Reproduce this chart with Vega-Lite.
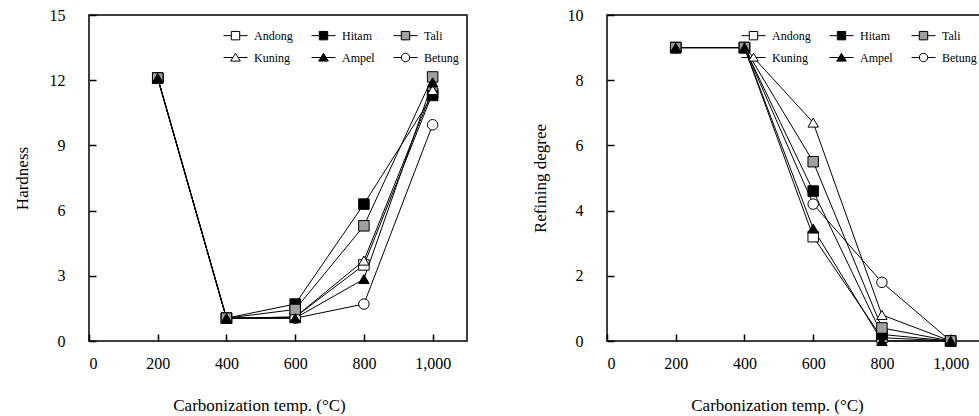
{
  "$schema": "https://vega.github.io/schema/vega-lite/v6.json",
  "padding": {"left": 12, "top": 6, "right": 0, "bottom": 0},
  "background": "white",
  "config": {
    "font": "Liberation Serif",
    "view": {"stroke": "black", "strokeWidth": 1.5},
    "axis": {
      "domain": false, "grid": false, "ticks": true, "tickSize": 7, "offset": -7, "tickColor": "black", "tickWidth": 1.5, "tickOpacity": 1, "zindex": 1,
      "labelFont": "Liberation Serif", "labelFontSize": 16, "labelColor": "black",
      "titleFont": "Liberation Serif", "titleFontSize": 17, "titleFontWeight": "normal", "titleColor": "black"
    },
    "axisX": {"labelPadding": 14, "titlePadding": 26},
    "axisY": {"labelPadding": 24, "titlePadding": 18},
    "legend": {
      "labelFont": "Liberation Serif", "labelFontSize": 12, "labelColor": "black",
      "symbolStrokeColor": "black", "symbolStrokeWidth": 1, "symbolOpacity": 1
    }
  },
  "datasets": {
    "hardness": [
      {"wood": "Andong", "temp": 200, "v": 12.1}, {"wood": "Andong", "temp": 400, "v": 1.05}, {"wood": "Andong", "temp": 600, "v": 1.1}, {"wood": "Andong", "temp": 800, "v": 3.5}, {"wood": "Andong", "temp": 1000, "v": 11.4},
      {"wood": "Hitam", "temp": 200, "v": 12.1}, {"wood": "Hitam", "temp": 400, "v": 1.05}, {"wood": "Hitam", "temp": 600, "v": 1.7}, {"wood": "Hitam", "temp": 800, "v": 6.3}, {"wood": "Hitam", "temp": 1000, "v": 11.3},
      {"wood": "Kuning", "temp": 200, "v": 12.1}, {"wood": "Kuning", "temp": 400, "v": 1.05}, {"wood": "Kuning", "temp": 600, "v": 1.1}, {"wood": "Kuning", "temp": 800, "v": 3.7}, {"wood": "Kuning", "temp": 1000, "v": 11.55},
      {"wood": "Betung", "temp": 200, "v": 12.1}, {"wood": "Betung", "temp": 400, "v": 1.05}, {"wood": "Betung", "temp": 600, "v": 1.05}, {"wood": "Betung", "temp": 800, "v": 1.7}, {"wood": "Betung", "temp": 1000, "v": 9.95},
      {"wood": "Tali", "temp": 200, "v": 12.1}, {"wood": "Tali", "temp": 400, "v": 1.05}, {"wood": "Tali", "temp": 600, "v": 1.45}, {"wood": "Tali", "temp": 800, "v": 5.3}, {"wood": "Tali", "temp": 1000, "v": 12.15},
      {"wood": "Ampel", "temp": 200, "v": 12.1}, {"wood": "Ampel", "temp": 400, "v": 1.05}, {"wood": "Ampel", "temp": 600, "v": 1.05}, {"wood": "Ampel", "temp": 800, "v": 2.85}, {"wood": "Ampel", "temp": 1000, "v": 11.9}
    ],
    "refining": [
      {"wood": "Andong", "temp": 200, "v": 9}, {"wood": "Andong", "temp": 400, "v": 9}, {"wood": "Andong", "temp": 600, "v": 3.2}, {"wood": "Andong", "temp": 800, "v": 0.1}, {"wood": "Andong", "temp": 1000, "v": 0},
      {"wood": "Hitam", "temp": 200, "v": 9}, {"wood": "Hitam", "temp": 400, "v": 9}, {"wood": "Hitam", "temp": 600, "v": 4.6}, {"wood": "Hitam", "temp": 800, "v": 0.2}, {"wood": "Hitam", "temp": 1000, "v": 0},
      {"wood": "Kuning", "temp": 200, "v": 9}, {"wood": "Kuning", "temp": 400, "v": 9}, {"wood": "Kuning", "temp": 600, "v": 6.7}, {"wood": "Kuning", "temp": 800, "v": 0.8}, {"wood": "Kuning", "temp": 1000, "v": 0},
      {"wood": "Betung", "temp": 200, "v": 9}, {"wood": "Betung", "temp": 400, "v": 9}, {"wood": "Betung", "temp": 600, "v": 4.2}, {"wood": "Betung", "temp": 800, "v": 1.8}, {"wood": "Betung", "temp": 1000, "v": 0},
      {"wood": "Tali", "temp": 200, "v": 9}, {"wood": "Tali", "temp": 400, "v": 9}, {"wood": "Tali", "temp": 600, "v": 5.5}, {"wood": "Tali", "temp": 800, "v": 0.4}, {"wood": "Tali", "temp": 1000, "v": 0},
      {"wood": "Ampel", "temp": 200, "v": 9}, {"wood": "Ampel", "temp": 400, "v": 9}, {"wood": "Ampel", "temp": 600, "v": 3.45}, {"wood": "Ampel", "temp": 800, "v": 0}, {"wood": "Ampel", "temp": 1000, "v": 0}
    ]
  },
  "spacing": 62,
  "resolve": {"scale": {"shape": "independent", "fill": "independent"}},
  "hconcat": [
    {
      "width": 378, "height": 326,
      "data": {"name": "hardness"},
      "resolve": {"scale": {"shape": "independent", "fill": "independent"}},
      "encoding": {
        "x": {"field": "temp", "type": "quantitative", "scale": {"domain": [0, 1100], "nice": false},
              "axis": {"values": [0, 200, 400, 600, 800, 1000], "format": ",d", "title": "Carbonization temp. (°C)", "titleX": 170}},
        "y": {"field": "v", "type": "quantitative", "scale": {"domain": [0, 15], "nice": false},
              "axis": {"values": [0, 3, 6, 9, 12, 15], "title": "Hardness"}}
      },
      "layer": [
        {"mark": {"type": "line", "color": "black", "strokeWidth": 1}, "encoding": {"detail": {"field": "wood"}}},
        {"mark": {"type": "point", "filled": true, "stroke": "black", "strokeWidth": 1, "size": 110, "opacity": 1},
         "encoding": {
           "shape": {"field": "wood", "legend": null, "scale": {"domain": ["Andong", "Hitam", "Tali", "Kuning", "Ampel", "Betung"], "range": ["square", "square", "square", "triangle-up", "triangle-up", "circle"]}},
           "fill": {"field": "wood", "legend": null, "scale": {"domain": ["Andong", "Hitam", "Tali", "Kuning", "Ampel", "Betung"], "range": ["white", "black", "#a0a0a0", "white", "black", "white"]}}
         }},
        {"transform": [{"filter": "false"}],
         "mark": {"type": "point", "filled": true, "stroke": "black", "strokeWidth": 1, "opacity": 1},
         "encoding": {
           "shape": {"field": "wood",
             "legend": {"title": null, "orient": "top-right", "offset": 8, "direction": "horizontal", "columns": 3, "symbolSize": 576, "labelOffset": 6, "columnPadding": 16, "rowPadding": 3,
               "encode": {"symbols": {"update": {"stroke": {"value": "black"}, "strokeWidth": {"value": 1}, "opacity": {"value": 1}}}}},
             "scale": {"domain": ["Andong", "Hitam", "Tali", "Kuning", "Ampel", "Betung"],
               "range": ["M-1,0H-0.35M0.35,0H1M-0.35,-0.35H0.35V0.35H-0.35Z", "M-1,0H-0.35M0.35,0H1M-0.35,-0.35H0.35V0.35H-0.35Z", "M-1,0H-0.35M0.35,0H1M-0.35,-0.35H0.35V0.35H-0.35Z", "M-1,0H-0.22M0.22,0H1M0,-0.35L0.4,0.3H-0.4Z", "M-1,0H-0.22M0.22,0H1M0,-0.35L0.4,0.3H-0.4Z", "M-1,0H-0.35M0.35,0H1M-0.35,0A0.35,0.35,0,1,0,0.35,0A0.35,0.35,0,1,0,-0.35,0Z"]}},
           "fill": {"field": "wood",
             "legend": {"title": null, "orient": "top-right", "offset": 8, "direction": "horizontal", "columns": 3, "symbolSize": 576, "labelOffset": 6, "columnPadding": 16, "rowPadding": 3,
               "encode": {"symbols": {"update": {"stroke": {"value": "black"}, "strokeWidth": {"value": 1}, "opacity": {"value": 1}}}}},
             "scale": {"domain": ["Andong", "Hitam", "Tali", "Kuning", "Ampel", "Betung"], "range": ["white", "black", "#a0a0a0", "white", "black", "white"]}}
         }}
      ]
    },
    {
      "width": 378, "height": 326,
      "data": {"name": "refining"},
      "resolve": {"scale": {"shape": "independent", "fill": "independent"}},
      "encoding": {
        "x": {"field": "temp", "type": "quantitative", "scale": {"domain": [0, 1100], "nice": false},
              "axis": {"values": [0, 200, 400, 600, 800, 1000], "format": ",d", "title": "Carbonization temp. (°C)", "titleX": 170}},
        "y": {"field": "v", "type": "quantitative", "scale": {"domain": [0, 10], "nice": false},
              "axis": {"values": [0, 2, 4, 6, 8, 10], "title": "Refining degree"}}
      },
      "layer": [
        {"mark": {"type": "line", "color": "black", "strokeWidth": 1}, "encoding": {"detail": {"field": "wood"}}},
        {"mark": {"type": "point", "filled": true, "stroke": "black", "strokeWidth": 1, "size": 110, "opacity": 1},
         "encoding": {
           "shape": {"field": "wood", "legend": null, "scale": {"domain": ["Andong", "Hitam", "Tali", "Kuning", "Ampel", "Betung"], "range": ["square", "square", "square", "triangle-up", "triangle-up", "circle"]}},
           "fill": {"field": "wood", "legend": null, "scale": {"domain": ["Andong", "Hitam", "Tali", "Kuning", "Ampel", "Betung"], "range": ["white", "black", "#a0a0a0", "white", "black", "white"]}}
         }},
        {"transform": [{"filter": "false"}],
         "mark": {"type": "point", "filled": true, "stroke": "black", "strokeWidth": 1, "opacity": 1},
         "encoding": {
           "shape": {"field": "wood",
             "legend": {"title": null, "orient": "top-right", "offset": 8, "direction": "horizontal", "columns": 3, "symbolSize": 576, "labelOffset": 6, "columnPadding": 16, "rowPadding": 3,
               "encode": {"symbols": {"update": {"stroke": {"value": "black"}, "strokeWidth": {"value": 1}, "opacity": {"value": 1}}}}},
             "scale": {"domain": ["Andong", "Hitam", "Tali", "Kuning", "Ampel", "Betung"],
               "range": ["M-1,0H-0.35M0.35,0H1M-0.35,-0.35H0.35V0.35H-0.35Z", "M-1,0H-0.35M0.35,0H1M-0.35,-0.35H0.35V0.35H-0.35Z", "M-1,0H-0.35M0.35,0H1M-0.35,-0.35H0.35V0.35H-0.35Z", "M-1,0H-0.22M0.22,0H1M0,-0.35L0.4,0.3H-0.4Z", "M-1,0H-0.22M0.22,0H1M0,-0.35L0.4,0.3H-0.4Z", "M-1,0H-0.35M0.35,0H1M-0.35,0A0.35,0.35,0,1,0,0.35,0A0.35,0.35,0,1,0,-0.35,0Z"]}},
           "fill": {"field": "wood",
             "legend": {"title": null, "orient": "top-right", "offset": 8, "direction": "horizontal", "columns": 3, "symbolSize": 576, "labelOffset": 6, "columnPadding": 16, "rowPadding": 3,
               "encode": {"symbols": {"update": {"stroke": {"value": "black"}, "strokeWidth": {"value": 1}, "opacity": {"value": 1}}}}},
             "scale": {"domain": ["Andong", "Hitam", "Tali", "Kuning", "Ampel", "Betung"], "range": ["white", "black", "#a0a0a0", "white", "black", "white"]}}
         }}
      ]
    }
  ]
}
